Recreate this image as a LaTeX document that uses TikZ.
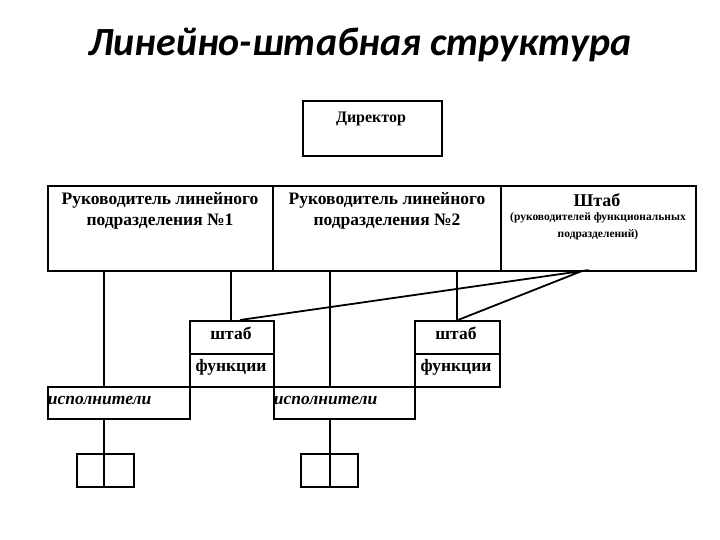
\documentclass[tikz,border=0pt]{standalone}
\usepackage{fontspec}
\setmainfont{Liberation Serif}
\newfontfamily\titlefont{Carlito}
\begin{document}
\begin{tikzpicture}[x=1pt,y=-1pt,line width=1.8pt,
  bx/.style={draw,rectangle,anchor=north west,inner sep=0pt},
  t/.style={font=\bfseries\fontsize{17.5}{21}\selectfont,align=center}]
\useasboundingbox (0,0) rectangle (720,540);
\node[font=\titlefont\bfseries\itshape\fontsize{40}{44}\selectfont] (title) at (360,45) {Линейно-штабная структура};
\node[bx,minimum width=139pt,minimum height=55pt] (dir) at (302,100) {};
\node[font=\bfseries\fontsize{16}{18}\selectfont] (dirt) at (371,119) {Директор};
\node[bx,minimum width=225pt,minimum height=85pt] (r1) at (47,185) {};
\node[bx,minimum width=228pt,minimum height=85pt] (r2) at (272,185) {};
\node[bx,minimum width=195pt,minimum height=85pt] (sh) at (500,185) {};
\node[t] (r1t) at (160,211) {Руководитель линейного\\подразделения №1};
\node[t] (r2t) at (387,211) {Руководитель линейного\\подразделения №2};
\node[t,font=\bfseries\fontsize{18}{20}\selectfont] (sht) at (597,200) {Штаб};
\node[align=center,font=\bfseries\fontsize{11.5}{17}\selectfont] (shs) at (598,226) {(руководителей функциональных\\подразделений)};
% staff boxes
\node[bx,minimum width=84pt,minimum height=33pt] (s1) at (189,320) {};
\node[bx,minimum width=84pt,minimum height=33pt] (f1) at (189,353) {};
\node[bx,minimum width=85pt,minimum height=33pt] (s2) at (414,320) {};
\node[bx,minimum width=85pt,minimum height=33pt] (f2) at (414,353) {};
\node[t] (s1t) at (231,333) {штаб};
\node[t] (f1t) at (231,367) {функции};
\node[t] (s2t) at (456,333) {штаб};
\node[t] (f2t) at (456,367) {функции};
% executors
\node[bx,minimum width=142pt,minimum height=32pt] (e1) at (47,386) {};
\node[bx,minimum width=141pt,minimum height=32pt] (e2) at (273,386) {};
\node[font=\bfseries\itshape\fontsize{17.5}{20}\selectfont,anchor=west,inner sep=0pt] (e1t) at (47,400) {исполнители};
\node[font=\bfseries\itshape\fontsize{17.5}{20}\selectfont,anchor=west,inner sep=0pt] (e2t) at (273,400) {исполнители};
% small boxes
\node[bx,minimum width=57pt,minimum height=33pt] (b1) at (76,453) {};
\node[bx,minimum width=57pt,minimum height=33pt] (b2) at (300,453) {};
% connectors
\coordinate (c) at (582,271);
\draw (104,270) -- (104,386);
\draw (231,270) -- (231,320);
\draw (330,270) -- (330,386);
\draw (457,270) -- (457,320);
\draw (104,418) -- (104,486);
\draw (330,418) -- (330,486);
\draw (240,320) -- (c) -- (458,320);
\end{tikzpicture}
\end{document}
